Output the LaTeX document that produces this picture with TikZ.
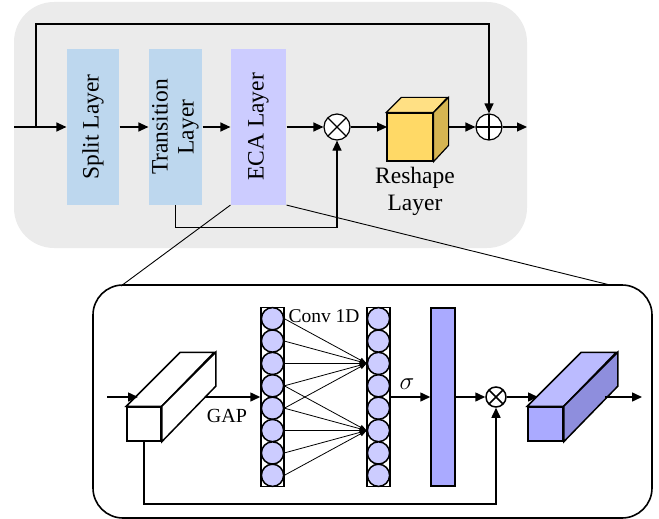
\documentclass[tikz,border=0pt]{standalone}
\usepackage{fontspec}
\setmainfont{Liberation Serif}
\usetikzlibrary{arrows.meta}
\definecolor{panelgray}{HTML}{EBEBEB}
\definecolor{lblue}{HTML}{BDD7EE}
\definecolor{ecacol}{HTML}{CCCCFF}
\definecolor{cubefront}{HTML}{FFD966}
\definecolor{cubetop}{HTML}{FFE084}
\definecolor{cubeside}{HTML}{D6B552}
\definecolor{circcol}{HTML}{CCCCFF}
\definecolor{barcol}{HTML}{AAAAFF}
\definecolor{bfront}{HTML}{AAAAFF}
\definecolor{btop}{HTML}{BBBBFF}
\definecolor{bside}{HTML}{8E8EDD}
\begin{document}
\begin{tikzpicture}[x=1pt,y=-1pt,
  arr/.style={-{Triangle[length=10pt,width=9pt]}},
  convarr/.style={line width=0.8pt,-{Triangle[length=7pt,width=5pt]}},
  layerbox/.style={draw=none, rotate=90, minimum height=#1, minimum width=155pt,
    inner sep=0pt, font=\fontsize{23.5}{26}\selectfont, align=center},
  otimesnode/.style={circle, draw, fill=white, minimum size=#1, inner sep=0pt,
    path picture={\draw (path picture bounding box.north west) -- (path picture bounding box.south east)
      (path picture bounding box.north east) -- (path picture bounding box.south west);}},
  oplusnode/.style={circle, draw, fill=white, minimum size=#1, inner sep=0pt,
    path picture={\draw (path picture bounding box.north) -- (path picture bounding box.south)
      (path picture bounding box.east) -- (path picture bounding box.west);}},
  colbox/.style={draw, fill=white, minimum width=23pt, minimum height=179pt, inner sep=0pt},
  circ/.style={circle, draw, fill=circcol, minimum size=22.2pt, inner sep=0pt},
  lbl/.style={font=\fontsize{20}{24}\selectfont, inner sep=0pt}
]
\useasboundingbox (0,0) rectangle (659,519);
% ---------- top panel ----------
\fill[panelgray, rounded corners=40pt] (14,2) rectangle (527,248);
\begin{scope}[line width=1.2pt]
\node[layerbox=52pt, fill=lblue] (split) at (93,127) {Split Layer};
\node[layerbox=53pt, fill=lblue] (trans) at (175.5,127) {Transition\\Layer};
\node[layerbox=55pt, fill=ecacol] (eca) at (258.5,127) {ECA Layer};
\node[otimesnode=26pt] (mul1) at (337,127) {};
\node[oplusnode=26pt] (add) at (489,127) {};
\node[draw, fill=cubefront, minimum width=46pt, minimum height=48pt, inner sep=0pt] (cube) at (410,137) {};
\draw[fill=cubetop] (cube.north west) -- ++(15,-15) -- ++(46,0) -- (cube.north east) -- cycle;
\draw[fill=cubeside] (cube.north east) -- ++(15,-15) -- ++(0,48) -- (cube.south east) -- cycle;
\node[font=\fontsize{23.5}{27}\selectfont, align=center, inner sep=0pt] (rlab) at (415,191) {Reshape\\Layer};
\coordinate (in) at (14,127);
\coordinate (br) at (36,127);
\coordinate (topc) at (36,24);
\coordinate (cubein) at (387,127);
\coordinate (cubeout) at (449,127);
\coordinate (out) at (527,127);
\draw[arr] (in) -- (split.north);
\draw[arr] (split.south) -- (trans.north);
\draw[arr] (trans.south) -- (eca.north);
\draw[arr] (eca.south) -- (mul1);
\draw[arr] (mul1) -- (cubein);
\draw[arr] (cubeout) -- (add);
\draw[arr] (add) -- (out);
\draw[arr] (br) -- (topc) -| (add.north);
\draw[arr] (trans.west) -- ++(0,22) -| (mul1.south);
\end{scope}
% zoom lines
\coordinate (zl) at (121,286);
\coordinate (zr) at (610,285);
\draw[line width=0.9pt] (eca.north west) -- (zl);
\draw[line width=0.9pt] (eca.south west) -- (zr);
% ---------- lower panel ----------
\draw[line width=1.6pt, rounded corners=30pt] (93,285) rectangle (652,518);
\begin{scope}[line width=1.5pt]
% white cuboid
\node[draw, fill=white, minimum width=34pt, minimum height=34pt, inner sep=0pt] (wbox) at (144,424) {};
\draw[fill=white] (wbox.north west) -- ++(54,-54) -- ++(34,0) -- (wbox.north east) -- cycle;
\draw[fill=white] (wbox.north east) -- ++(54,-54) -- ++(0,34) -- (wbox.south east) -- cycle;
\coordinate (lin) at (107,397);
\coordinate (wtop) at (138,397);
\coordinate (wout) at (205,397);
\draw[arr] (lin) -- (wtop);
% columns
\node[colbox] (lcol) at (272.5,397) {};
\node[colbox] (rcol) at (378.5,397) {};
\foreach \k in {1,...,8} {
  \node[circ] (l\k) at (272.5,{307.5+22.375*(\k-0.5)}) {};
  \node[circ] (r\k) at (378.5,{307.5+22.375*(\k-0.5)}) {};
}
\draw[arr] (wout) -- (lcol.west);
\node[lbl] (gap) at (227,416) {GAP};
\node[lbl, font=\fontsize{19.5}{22}\selectfont] (conv) at (324,316) {Conv 1D};
\end{scope}
\foreach \k in {1,...,5} \draw[convarr] (l\k.east) -- (r3.west);
\foreach \k in {4,...,8} \draw[convarr] (l\k.east) -- (r6.west);
\begin{scope}[line width=1.5pt]
\node[draw, fill=barcol, minimum width=24pt, minimum height=178pt, inner sep=0pt] (bar) at (443,397) {};
\node[otimesnode=20pt] (mul2) at (496,397) {};
\draw[arr] (rcol.east) -- (bar.west);
\node[lbl, font=\fontsize{24}{26}\selectfont] (sig) at (407,384) {$\sigma$};
\draw[arr] (bar.east) -- (mul2);
\coordinate (bin) at (538,397);
\draw[arr] (mul2) -- (bin);
% blue cuboid
\node[draw, fill=bfront, minimum width=35pt, minimum height=34pt, inner sep=0pt] (bbox) at (545.5,424) {};
\draw[fill=btop] (bbox.north west) -- ++(54,-54) -- ++(35,0) -- (bbox.north east) -- cycle;
\draw[fill=bside] (bbox.north east) -- ++(54,-54) -- ++(0,34) -- (bbox.south east) -- cycle;
\coordinate (bout) at (605,397);
\coordinate (lout) at (642,397);
\draw[arr] (bout) -- (lout);
\coordinate (ret) at (144,504);
\draw[arr] (wbox.south) -- (ret) -| (mul2.south);
\end{scope}
\end{tikzpicture}
\end{document}
